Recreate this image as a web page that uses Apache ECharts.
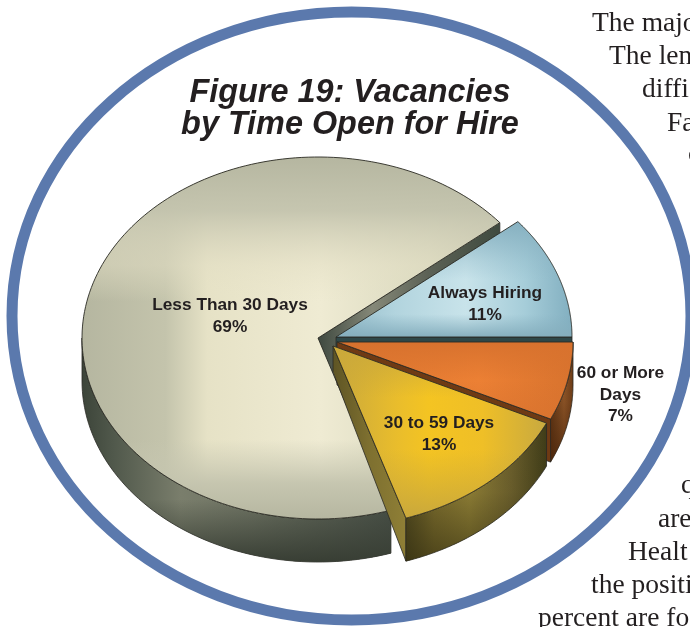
<!DOCTYPE html>
<html>
<head>
<meta charset="utf-8">
<style>html,body{margin:0;padding:0;background:#fff;overflow:hidden}#c{width:690px;height:627px}</style>
<script src="https://cdn.jsdelivr.net/npm/echarts@6/dist/echarts.min.js"></script>
</head>
<body>
<div id="c"></div>
<script>
// ---- data (clockwise from 3 o'clock) ----
const categories = ['60 or More\nDays', '30 to 59 Days', 'Less Than 30 Days', 'Always Hiring'];
const values = [7, 13, 69, 11];
const titleLines = ['Figure 19: Vacancies', 'by Time Open for Hire'];
const bodyTextTop = ['The majo', 'The len', 'diffi', 'Fa', 'c'];
const bodyTextBottom = ['q', 'are', 'Healt', 'the positi', 'percent are fo'];

// ---- layout ----
const drawOrder = [2, 3, 0, 1];
const RX = 236, RY = 181, DEPTH = 43;
const centers = [[337, 342], [333, 346], [318, 338], [336, 337]];
const apexDepth = [43, 26, 43, 43];
const labelPos = [[620.5, 373.5], [439, 423.5], [230, 305.5], [485, 293.5]];
const bodyTopX = [592, 609, 642, 667, 688];
const bodyTopY = [32, 65, 98, 132, 163];
const bodyBotX = [681, 658, 628, 591, 538];
const bodyBotY = [494, 528, 561, 594, 627];
const BODY_DROP = 6;

// ---- styles ----
const lin = (dir, stops) => new echarts.graphic.LinearGradient(
  0, 0, dir === 'h' ? 1 : 0, dir === 'h' ? 0 : 1,
  stops.map(s => ({ offset: s[0], color: s[1] })));
const paint = [
  { // orange
    topH: [[0, '#dc7630'], [.6, '#ec8034'], [1, '#d8732e']],
    topV: [[0, 'rgba(216,114,46,1)'], [.5, 'rgba(216,114,46,0)'], [1, 'rgba(216,114,46,.6)']],
    rimH: [[0, '#5f3515'], [.6, '#8f5628'], [1, '#6e3d18']],
    rimV: [[0, 'rgba(70,35,10,0)'], [.5, 'rgba(70,35,10,.1)'], [1, 'rgba(70,35,10,.75)']],
    wall: '#6f3a14'
  },
  { // yellow
    topH: [[0, '#c9a83c'], [.3, '#e9bd2c'], [.45, '#f4c422'], [.7, '#efbf27'], [1, '#c8a940']],
    topV: [[0, 'rgba(203,169,58,1)'], [.3, 'rgba(203,169,58,0)'], [.6, 'rgba(203,169,58,0)'], [1, 'rgba(201,168,60,1)']],
    rimH: [[0, '#4f4820'], [.2, '#7c6d2e'], [.45, '#8f7f36'], [.75, '#6a5e2c'], [1, '#3f3c18']],
    rimV: [[0, 'rgba(50,45,15,0)'], [.5, 'rgba(50,45,15,.05)'], [1, 'rgba(50,45,15,.65)']],
    wall: [[0, '#5e5424'], [.5, '#7e7030'], [1, '#8f7f36']]
  },
  { // beige
    topH: [[0, '#b5b6a0'], [.2, '#c4c4ac'], [.3, '#e6e2c6'], [.57, '#efebd3'], [.83, '#d9d8be'], [1, '#bdbda7']],
    topV: [[0, 'rgba(181,182,160,1)'], [.15, 'rgba(196,196,174,.95)'], [.3, 'rgba(226,222,196,.5)'], [.4, 'rgba(232,228,200,0)'], [.78, 'rgba(200,200,178,0)'], [.9, 'rgba(196,196,174,.95)'], [1, 'rgba(181,182,160,1)']],
    rimH: [[0, '#3c4439'], [.1, '#50584b'], [.32, '#7a7e6c'], [.55, '#6e7363'], [1, '#485047']],
    rimV: [[0, 'rgba(56,62,52,0)'], [.72, 'rgba(56,62,52,0)'], [1, 'rgba(56,62,52,1)']],
    wall: [[0, '#3e483f'], [.3, '#858878'], [.6, '#5c6256'], [1, '#3f4a3f']]
  },
  { // blue
    topH: [[0, '#93bbc9'], [.25, '#b2d4de'], [.55, '#c8e3ea'], [.8, '#a6cdd9'], [1, '#82afc0']],
    topV: [[0, 'rgba(134,176,192,1)'], [.35, 'rgba(134,176,192,.25)'], [.5, 'rgba(134,176,192,0)'], [.8, 'rgba(134,176,192,0)'], [1, 'rgba(133,174,189,1)']],
    rimH: [[0, '#2e4748'], [1, '#2e4748']],
    rimV: [[0, 'rgba(0,0,0,0)'], [1, 'rgba(0,0,0,0)']],
    wall: '#2e4748'
  }
];
const EDGE = '#2a2a24';

// angles from values
const total = values.reduce((a, b) => a + b, 0);
const starts = [];
values.reduce((acc, v, i) => { starts[i] = acc; return acc + v; }, 0);
const toT = v => v / total * Math.PI * 2;

function renderSlice(params, api) {
  const i = api.value(0);
  const [cx, cy] = centers[i];
  const t0 = toT(starts[i]), t1 = toT(starts[i] + values[i]);
  const P = (t, d) => api.coord([cx + RX * Math.cos(t), cy + RY * Math.sin(t) + (d || 0)]);
  const style = paint[i];
  const kids = [];
  const wallFill = Array.isArray(style.wall) ? lin('h', style.wall) : style.wall;
  kids.push({
    type: 'polygon',
    shape: { points: [api.coord([cx, cy]), P(t1), P(t1, DEPTH), api.coord([cx, cy + apexDepth[i]])] },
    style: { fill: wallFill, stroke: EDGE, lineWidth: 0.8 }
  });
  const a = Math.max(t0, 0), b = Math.min(t1, Math.PI);
  if (b > a) {
    const rim = [], n = 64;
    for (let k = 0; k <= n; k++) rim.push(P(a + (b - a) * k / n));
    for (let k = n; k >= 0; k--) rim.push(P(a + (b - a) * k / n, DEPTH));
    kids.push({ type: 'polygon', shape: { points: rim }, style: { fill: lin('h', style.rimH), stroke: EDGE, lineWidth: 0.8 } });
    kids.push({ type: 'polygon', shape: { points: rim }, style: { fill: lin('v', style.rimV) } });
  }
  const top = [api.coord([cx, cy])], n = 160;
  for (let k = 0; k <= n; k++) top.push(P(t0 + (t1 - t0) * k / n));
  kids.push({ type: 'polygon', shape: { points: top }, style: { fill: lin('h', style.topH) } });
  kids.push({ type: 'polygon', shape: { points: top }, style: { fill: lin('v', style.topV), stroke: EDGE, lineWidth: 0.9 } });
  return { type: 'group', children: kids };
}

function renderLabel(params, api) {
  const i = api.value(0);
  const p = api.coord(labelPos[i]);
  return {
    type: 'text',
    x: p[0], y: p[1] - 11,
    style: {
      text: categories[i] + '\n' + values[i] + '%',
      fill: '#231f20', align: 'center', verticalAlign: 'top',
      font: 'bold 17.3px "Liberation Sans", Arial, sans-serif', lineHeight: 21.5
    }
  };
}

const bodyText = (lines, xs, ys) => lines.map((t, i) => ({
  type: 'text', x: xs[i], y: ys[i] + BODY_DROP, z: 1,
  style: { text: t, fill: '#231f20', font: '27.5px "Liberation Serif", "Times New Roman", serif', verticalAlign: 'bottom', align: 'left' }
}));

const chart = echarts.init(document.getElementById('c'), null, { renderer: 'canvas', width: 690, height: 627 });
chart.setOption({
  animation: false,
  backgroundColor: '#fff',
  title: {
    text: titleLines.join('\n'), left: 350, top: 77, textAlign: 'center', padding: 0,
    textStyle: { fontFamily: '"Liberation Sans", Arial, sans-serif', fontWeight: 'bold', fontStyle: 'italic', fontSize: 32.4, lineHeight: 32, color: '#231f20' }
  },
  grid: { left: 0, right: 0, top: 0, bottom: 0 },
  xAxis: { type: 'value', min: 0, max: 690, show: false },
  yAxis: { type: 'value', min: 0, max: 627, inverse: true, show: false },
  graphic: [
    { type: 'ellipse', z: 0, silent: true, shape: { cx: 351.5, cy: 316, rx: 339.5, ry: 304 }, style: { fill: '#fff', stroke: '#5b79ad', lineWidth: 11 } },
    ...bodyText(bodyTextTop, bodyTopX, bodyTopY),
    ...bodyText(bodyTextBottom, bodyBotX, bodyBotY)
  ],
  series: [
    { type: 'custom', clip: false, silent: true, z: 3, renderItem: renderSlice, data: drawOrder.map(i => [i]) },
    { type: 'custom', clip: false, silent: true, z: 4, renderItem: renderLabel, data: drawOrder.map(i => [i]) }
  ]
});
</script>
</body>
</html>
